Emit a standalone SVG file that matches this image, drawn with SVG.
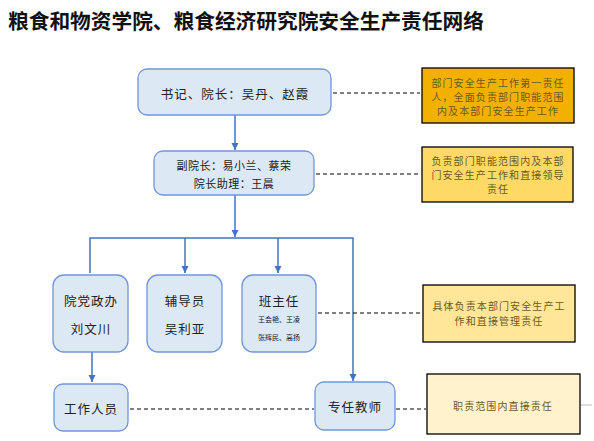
<svg xmlns="http://www.w3.org/2000/svg" width="594" height="441" viewBox="0 0 594 441">
<defs>
<marker id="ah" markerWidth="8" markerHeight="8" refX="7" refY="4" orient="auto" markerUnits="userSpaceOnUse">
<path d="M0,0.5 L7,4 L0,7.5 Z" fill="#4472c4"/>
</marker>
<style>
.node{fill:#dde8f5;stroke:#7096d8;stroke-width:1.3}
.t{font-family:"Noto Sans CJK SC","Noto Sans",sans-serif;fill:#222;text-anchor:middle;dominant-baseline:central}
.n{font-size:12.5px;letter-spacing:1px}
.s{font-size:11px;letter-spacing:0.5px}
.resp{stroke:#000;stroke-width:1.3}
.r{font-family:"Noto Sans CJK SC","Noto Sans",sans-serif;font-size:10px;letter-spacing:1.1px;text-anchor:middle;dominant-baseline:central;fill:#6b5a1e}
.c{stroke:#4472c4;stroke-width:1.5;fill:none}
.d{stroke:#000;stroke-width:1;stroke-dasharray:4,3;fill:none}
</style>
</defs>
<rect width="594" height="441" fill="#fff"/>
<text x="8" y="20" font-family="'Noto Sans CJK SC',sans-serif" font-size="20.7px" font-weight="bold" fill="#111" dominant-baseline="central">粮食和物资学院、粮食经济研究院安全生产责任网络</text>

<g id="connectors">
<path class="c" d="M235,115 V150" marker-end="url(#ah)"/>
<path class="c" d="M235,195 V237" marker-end="url(#ah)"/>
<path class="c" d="M90,273 V238 H353 V381" marker-end="url(#ah)"/>
<path class="c" d="M185,238 V273" marker-end="url(#ah)"/>
<path class="c" d="M278,238 V273" marker-end="url(#ah)"/>
<path class="c" d="M92,352 V382" marker-end="url(#ah)"/>
<path class="d" d="M333,93 H420"/>
<path class="d" d="M316,174 H421"/>
<path class="d" d="M318,313 H422"/>
<path class="d" d="M130,409 H314"/>
<path class="d" d="M396,409 H426"/>
<path d="M581,405 H592" stroke="#bbb" stroke-width="1"/>
</g>

<g id="n1"><rect class="node" x="138" y="69" width="193" height="46" rx="9"/>
<text class="t n" x="235" y="93">书记、院长：吴丹、赵霞</text></g>

<g id="r1"><rect class="resp" x="422" y="68" width="152" height="55" fill="#f2b100"/>
<text class="r" x="498" y="82">部门安全生产工作第一责任</text>
<text class="r" x="498" y="96">人，全面负责部门职能范围</text>
<text class="r" x="498" y="110">内及本部门安全生产工作</text></g>

<g id="n2"><rect class="node" x="154" y="151" width="160" height="44" rx="9"/>
<text class="t s" x="234" y="165">副院长：易小兰、蔡荣</text>
<text class="t s" x="234" y="183">院长助理：王晨</text></g>

<g id="r2"><rect class="resp" x="422" y="147" width="151" height="55" fill="#ffd966"/>
<text class="r" x="498" y="160">负责部门职能范围内及本部</text>
<text class="r" x="498" y="174">门安全生产工作和直接领导</text>
<text class="r" x="498" y="188">责任</text></g>

<g id="n3"><rect class="node" x="53" y="275" width="75" height="77" rx="11"/>
<text class="t n" x="91" y="300">院党政办</text>
<text class="t n" x="91" y="328">刘文川</text></g>

<g id="n4"><rect class="node" x="147" y="275" width="75" height="77" rx="11"/>
<text class="t n" x="185" y="300">辅导员</text>
<text class="t n" x="185" y="328">吴利亚</text></g>

<g id="n5"><rect class="node" x="242" y="275" width="74" height="77" rx="11"/>
<text class="t n" x="279" y="300">班主任</text>
<text class="t" x="279" y="319" font-size="7px">王会艳、王凌</text>
<text class="t" x="279" y="337" font-size="7px">张辉民、高扬</text></g>

<g id="r3"><rect class="resp" x="423" y="285" width="152" height="57" fill="#ffe699"/>
<text class="r" x="499" y="305">具体负责本部门安全生产工</text>
<text class="r" x="499" y="320">作和直接管理责任</text></g>

<g id="n6"><rect class="node" x="54" y="384" width="74" height="47" rx="9"/>
<text class="t n" x="91" y="408">工作人员</text></g>

<g id="n7"><rect class="node" x="315" y="382" width="80" height="48" rx="9"/>
<text class="t n" x="355" y="406">专任教师</text></g>

<g id="r4"><rect class="resp" x="427" y="374" width="153" height="60" fill="#fff2cc"/>
<text class="r" x="503" y="405">职责范围内直接责任</text></g>
</svg>
